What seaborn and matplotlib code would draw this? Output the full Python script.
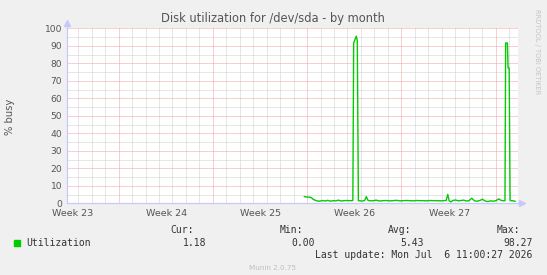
import matplotlib
matplotlib.use("Agg")
import matplotlib.pyplot as plt
import seaborn as sns
import pandas as pd
import numpy as np

# ---- data (days since the left edge of the graph, % busy) ----
days = [17.67, 17.85, 18.05, 18.2, 18.3, 18.45, 18.6, 18.8, 19.0, 19.2, 19.4, 19.6,
        19.8, 20.0, 20.2, 20.4, 20.6, 20.8, 21.0, 21.2, 21.27, 21.33, 21.45, 21.52,
        21.6, 21.68, 21.8, 22.0, 22.15, 22.27, 22.4, 22.6, 22.8, 23.0, 23.25, 23.5,
        23.75, 24.0, 24.25, 24.5, 24.75, 25.0, 25.25, 25.5, 25.75, 26.0, 26.25, 26.5,
        26.75, 27.0, 27.25, 27.5, 27.75, 28.0, 28.2, 28.32, 28.42, 28.55, 28.7, 28.9,
        29.1, 29.3, 29.5, 29.7, 29.9, 30.1, 30.3, 30.5, 30.7, 30.9, 31.1, 31.3, 31.5,
        31.7, 31.9, 32.1, 32.3, 32.5, 32.57, 32.62, 32.75, 32.8, 32.88, 32.95, 33.05,
        33.15, 33.25, 33.32]
busy = [3.8, 3.6, 3.5, 3.2, 2.4, 1.8, 1.4, 1.2, 1.6, 1.3, 1.7, 1.2,
        1.5, 1.4, 1.8, 1.3, 1.5, 1.6, 1.5, 1.5, 1.6, 91.6, 94.0, 95.5,
        93.0, 1.5, 1.4, 1.3, 1.6, 3.8, 1.6, 1.4, 1.5, 1.8, 1.3, 1.5,
        1.6, 1.4, 1.5, 1.7, 1.4, 1.5, 1.6, 1.5, 1.4, 1.6, 1.5, 1.5,
        1.4, 1.6, 1.5, 1.5, 1.4, 1.5, 1.6, 5.1, 1.5, 0.8, 1.6, 1.9,
        1.4, 1.6, 1.8, 1.3, 1.5, 2.9, 1.4, 1.2, 1.6, 2.3, 1.3, 1.0, 1.4,
        1.2, 1.5, 2.5, 1.6, 1.4, 1.5, 91.6, 91.6, 77.3, 77.3, 1.8, 1.4,
        1.5, 1.2, 1.18]

week_labels = ["Week 23", "Week 24", "Week 25", "Week 26", "Week 27"]
week_label_pos = [0.43, 7.43, 14.43, 21.43, 28.43]
week_lines = [3.87, 10.87, 17.87, 24.87, 31.87]
y_ticks = [0, 10, 20, 30, 40, 50, 60, 70, 80, 90, 100]

legend_name = "Utilization"
stat_names = ["Cur:", "Min:", "Avg:", "Max:"]
stat_values = ["1.18", "0.00", "5.43", "98.27"]
title = "Disk utilization for /dev/sda - by month"
ylabel = "% busy"
last_update = "Last update: Mon Jul  6 11:00:27 2026"
footer = "Munin 2.0.75"
side_text = "RRDTOOL / TOBI OETIKER"

# ---- figure ----
W, H = 547, 275
fig = plt.figure(figsize=(W / 100, H / 100), dpi=100, facecolor="#f0f0f0")
L, R, T, B = 66.5, 517.5, 28.3, 203.3
ax = fig.add_axes([L / W, 1 - B / H, (R - L) / W, (B - T) / H])
ax.set_facecolor("white")

xmax = 33.5
ax.set_xlim(0, xmax)
ax.set_ylim(0, 100)

# grid
for d in np.arange(0.87, xmax, 1.0):
    if min(abs(d - w) for w in week_lines) < 0.05:
        continue
    ax.axvline(d, color="#cfcfcf", lw=0.72, dashes=(1, 1), zorder=1)
for w in week_lines:
    ax.axvline(w, color="#f2a0a0", lw=0.72, dashes=(1, 1), zorder=1.5)
for yv in range(5, 100, 10):
    ax.axhline(yv, color="#cfcfcf", lw=0.72, dashes=(1, 1), zorder=1)
for yv in range(10, 101, 10):
    ax.axhline(yv, color="#f2a0a0", lw=0.72, dashes=(1, 1), zorder=1.5)

df = pd.DataFrame({"day": days, "busy": busy})
sns.lineplot(data=df, x="day", y="busy", ax=ax, color="#00cc00", lw=1.0, zorder=3)

for s in ["top", "right"]:
    ax.spines[s].set_visible(False)
for s in ["left", "bottom"]:
    ax.spines[s].set_color("#c8c8ff")
    ax.spines[s].set_linewidth(0.9)
    ax.spines[s].set_zorder(4)

# axis arrows
ax.plot([0], [103], marker="^", ms=4, color="#c8c8ff", clip_on=False, zorder=5)
ax.plot([xmax + 0.35], [0], marker=">", ms=4, color="#c8c8ff", clip_on=False, zorder=5)
ax.plot([xmax, xmax + 0.3], [0, 0], color="#c8c8ff", lw=0.9, clip_on=False, zorder=5)
ax.plot([0, 0], [100, 102.5], color="#c8c8ff", lw=0.9, clip_on=False, zorder=5)

ax.set_xticks(week_label_pos)
ax.set_xticklabels(week_labels)
ax.set_yticks(y_ticks)
ax.set_yticklabels([str(v) for v in y_ticks])
ax.tick_params(axis="both", length=0, labelsize=6.6, colors="#555555", pad=3)
ax.tick_params(axis="x", labelsize=6.8, pad=4)
ax.set_xlabel("")
ax.set_ylabel("")

fig.text(10 / W, 1 - 117 / H, ylabel, rotation=90, ha="center", va="center",
         fontsize=7.2, color="#555555")
fig.text(273 / W, 1 - 18.5 / H, title, ha="center", va="center",
         fontsize=8.3, color="#555555")
fig.text(537 / W, 1 - 52 / H, side_text, rotation=270, ha="center", va="center",
         fontsize=4.8, color="#c4c4c4")

mono = "DejaVu Sans Mono"
fs = 7.0
# legend
fig.patches.append(plt.Rectangle((14 / W, 1 - 245.5 / H), 5.5 / W, 5.5 / H,
                                 transform=fig.transFigure, color="#00cc00"))
fig.text(26 / W, 1 - 242.5 / H, legend_name, family=mono, fontsize=fs,
         color="#333333", ha="left", va="center")
name_right = [193.6, 302.9, 411.7, 520.6]
val_right = [206.6, 315.0, 424.0, 532.8]
for n, nx, v, vx in zip(stat_names, name_right, stat_values, val_right):
    fig.text(nx / W, 1 - 230 / H, n, family=mono, fontsize=fs, color="#333333",
             ha="right", va="center")
    fig.text(vx / W, 1 - 242.5 / H, v, family=mono, fontsize=fs, color="#333333",
             ha="right", va="center")
fig.text(532.8 / W, 1 - 254.8 / H, last_update, family=mono, fontsize=fs,
         color="#333333", ha="right", va="center")
fig.text(273 / W, 1 - 268 / H, footer, fontsize=5.2, color="#c0c0c0",
         ha="center", va="center")

fig.savefig("out.png", dpi=100, facecolor=fig.get_facecolor())
